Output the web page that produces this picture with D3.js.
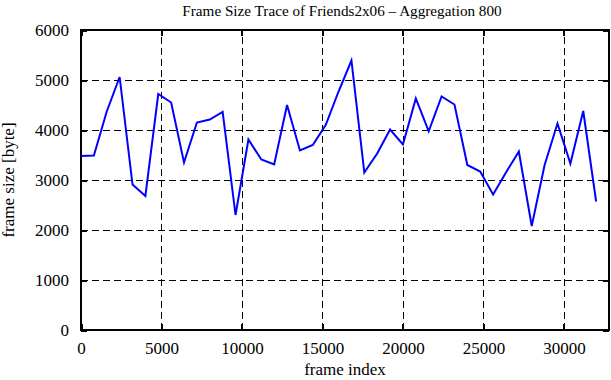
<!DOCTYPE html>
<html><head><meta charset="utf-8">
<script src="https://cdn.jsdelivr.net/npm/d3@7"></script>
<style>body{margin:0;background:#fff}svg{display:block}text{font-family:"Liberation Serif","DejaVu Serif",serif;fill:#000}</style>
</head><body><svg id="c" width="611" height="380"></svg>
<script>
const title = "Frame Size Trace of Friends2x06 \u2013 Aggregation 800";
const xLabel = "frame index";
const yLabel = "frame size [byte]";
const xTicks = [0, 5000, 10000, 15000, 20000, 25000, 30000];
const yTicks = [0, 1000, 2000, 3000, 4000, 5000, 6000];
const step = 800;
const frameSizes = [3480, 3490, 4370, 5060, 2910, 2680, 4720, 4550, 3350, 4150, 4210, 4360, 2300, 3810, 3410,
  3310, 4500, 3590, 3700, 4100, 4770, 5390, 3150, 3530, 4010, 3710, 4630, 3975,
  4670, 4510, 3300, 3170, 2710, 3150, 3570, 2080, 3300, 4130, 3330, 4380, 2570];

const svg = d3.select("#c");
const m = {l: 81, r: 611 - 609, t: 30, b: 380 - 330};
const W = 611, H = 380;
const x = d3.scaleLinear().domain([0, 32800]).range([m.l, W - m.r]);
const y = d3.scaleLinear().domain([0, 6000]).range([H - m.b, m.t]);
const px = v => Math.round(v) + 0.5;

// grid
const g = svg.append("g").attr("shape-rendering", "crispEdges");
g.selectAll("line.vx").data(xTicks.filter(d => d > 0)).enter().append("line")
  .attr("x1", d => px(x(d))).attr("x2", d => px(x(d))).attr("y1", y(0)).attr("y2", y(6000))
  .attr("stroke", "#000").attr("stroke-width", 1).attr("stroke-dasharray", "7,4");
g.selectAll("line.hy").data(yTicks.filter(d => d > 0 && d < 6000)).enter().append("line")
  .attr("x1", x(0)).attr("x2", x(32800)).attr("y1", d => px(y(d))).attr("y2", d => px(y(d)))
  .attr("stroke", "#000").attr("stroke-width", 1).attr("stroke-dasharray", "7,4");

// axes with inward ticks
const ax = svg.append("g").attr("transform", `translate(0,${y(0)})`)
  .call(d3.axisBottom(x).tickValues(xTicks).tickSize(-6).tickPadding(12).tickFormat(d3.format("d")));
const axT = svg.append("g").attr("transform", `translate(0,${y(6000)})`)
  .call(d3.axisTop(x).tickValues(xTicks).tickSize(-6).tickFormat(""));
const ay = svg.append("g").attr("transform", `translate(${x(0)},0)`)
  .call(d3.axisLeft(y).tickValues(yTicks).tickSize(-6).tickPadding(12).tickFormat(d3.format("d")));
const ayR = svg.append("g").attr("transform", `translate(${x(32800)},0)`)
  .call(d3.axisRight(y).tickValues(yTicks).tickSize(-6).tickFormat(""));
[ax, axT, ay, ayR].forEach(a => {
  a.select(".domain").remove();
  a.selectAll("line").attr("stroke", "#000").attr("stroke-width", 2).attr("shape-rendering", "crispEdges");
  a.selectAll("text").attr("font-size", 17).attr("font-family", "Liberation Serif");
});
ay.selectAll("text").attr("dy", "0.35em");

// frame
svg.append("rect").attr("x", x(0)).attr("y", y(6000)).attr("width", x(32800) - x(0)).attr("height", y(0) - y(6000))
  .attr("fill", "none").attr("stroke", "#000").attr("stroke-width", 2).attr("shape-rendering", "crispEdges");

// line
const line = d3.line().x((d, i) => x(i * step)).y(d => y(d));
svg.append("path").datum(frameSizes).attr("d", line).attr("fill", "none")
  .attr("stroke", "#0000ff").attr("stroke-width", 2).attr("stroke-linejoin", "miter");

svg.append("text").attr("x", 342).attr("y", 16).attr("text-anchor", "middle").attr("font-size", 15.2).text(title);
svg.append("text").attr("x", 345).attr("y", 375).attr("text-anchor", "middle").attr("font-size", 17).text(xLabel);
svg.append("text").attr("transform", "translate(14,180) rotate(-90)").attr("text-anchor", "middle").attr("font-size", 17).text(yLabel);
</script></body></html>
